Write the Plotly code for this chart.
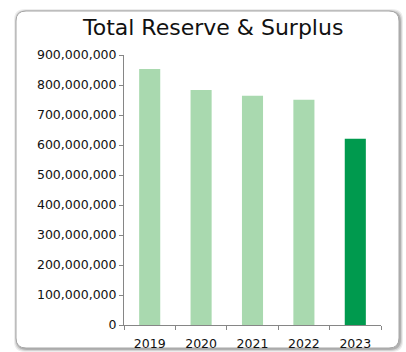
import plotly.graph_objects as go

# Reserve & surplus totals by year
years = ["2019", "2020", "2021", "2022", "2023"]
reserve_surplus = [853_000_000, 783_000_000, 764_000_000, 751_000_000, 621_000_000]
bar_colors = ["#A9D9AF", "#A9D9AF", "#A9D9AF", "#A9D9AF", "#009A4E"]
y_ticks = list(range(0, 900_000_001, 100_000_000))

W, H = 406, 352
ML, MR, MT, MB = 124, 25, 55, 27
PW, PH = W - ML - MR, H - MT - MB


def px(x):
    return (x - ML) / PW


def py(y):
    return (H - MB - y) / PH


def rounded_rect(x0, y0, x1, y1, r):
    # SVG path of a rounded rectangle, given in pixel coords, emitted in paper coords
    pts = [
        f"M {px(x0 + r)},{py(y0)}",
        f"L {px(x1 - r)},{py(y0)}",
        f"Q {px(x1)},{py(y0)} {px(x1)},{py(y0 + r)}",
        f"L {px(x1)},{py(y1 - r)}",
        f"Q {px(x1)},{py(y1)} {px(x1 - r)},{py(y1)}",
        f"L {px(x0 + r)},{py(y1)}",
        f"Q {px(x0)},{py(y1)} {px(x0)},{py(y1 - r)}",
        f"L {px(x0)},{py(y0 + r)}",
        f"Q {px(x0)},{py(y0)} {px(x0 + r)},{py(y0)}",
        "Z",
    ]
    return " ".join(pts)


shapes = []
# soft drop shadow around the card
for i, op in enumerate([0.07, 0.11, 0.16]):
    d = 3 - i
    shapes.append(dict(
        type="path", xref="paper", yref="paper", layer="below",
        path=rounded_rect(16 - d + 1, 11 - d + 1, 400 + d, 349 + d, 11),
        fillcolor=f"rgba(0,0,0,{op})", line=dict(width=0),
    ))
# card
shapes.append(dict(
    type="path", xref="paper", yref="paper", layer="below",
    path=rounded_rect(16, 11, 399, 348, 10),
    fillcolor="white", line=dict(color="#A6A6A6", width=1),
))

fig = go.Figure(go.Bar(
    x=years, y=reserve_surplus,
    marker=dict(color=bar_colors, line=dict(width=0)),
    width=0.41,
))

font = "DejaVu Sans"
fig.update_layout(
    width=W, height=H,
    margin=dict(l=ML, r=MR, t=MT, b=MB, pad=0),
    paper_bgcolor="white", plot_bgcolor="rgba(0,0,0,0)",
    showlegend=False,
    shapes=shapes,
    annotations=[dict(
        text="Total Reserve & Surplus", xref="paper", yref="paper",
        x=px(212.5), y=py(28), xanchor="center", yanchor="middle",
        showarrow=False, font=dict(family=font, size=22, color="#111111"),
    )],
    font=dict(family=font, size=12, color="#111111"),
)
fig.update_xaxes(
    type="category", showgrid=False, zeroline=False, automargin=False,
    showline=True, linecolor="#868686", linewidth=1,
    ticks="outside", tickson="boundaries", ticklen=4, tickcolor="#868686",
    ticklabelstandoff=7,
    tickfont=dict(family=font, size=12.5, color="#111111"),
)
fig.update_yaxes(
    range=[0, 900_000_000], tickvals=y_ticks, tickformat=",d",
    showgrid=False, zeroline=False, automargin=False,
    showline=True, linecolor="#868686", linewidth=1,
    ticks="outside", ticklen=4, tickcolor="#868686",
    tickfont=dict(family=font, size=12.5, color="#111111"),
)

fig.write_html("out.html")
